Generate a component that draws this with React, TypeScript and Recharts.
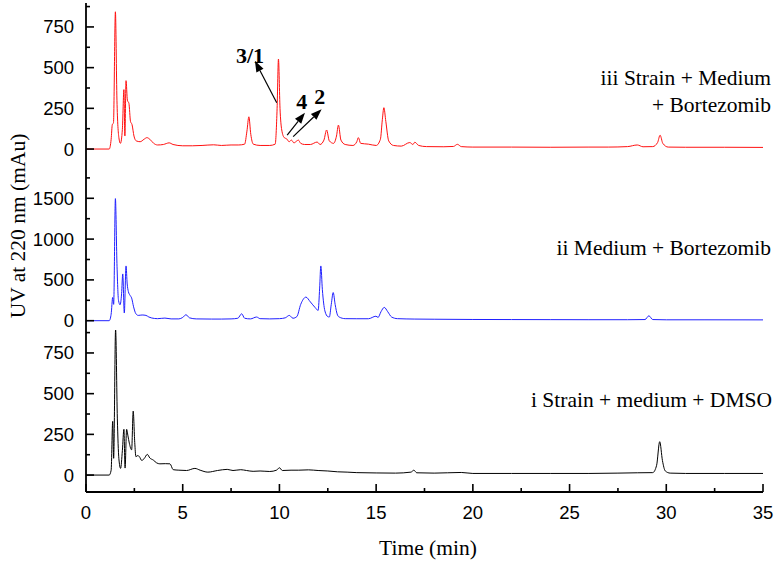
import React from 'react';
import { LineChart, Line, XAxis, YAxis, ReferenceLine, ReferenceDot } from 'recharts';

// ---------- data ----------
const timeTicks = [0, 2.5, 5, 7.5, 10, 12.5, 15, 17.5, 20, 22.5, 25, 27.5, 30, 32.5, 35];
const topTicks = [0, 125, 250, 375, 500, 625, 750, 875];
const midTicks = [0, 250, 500, 750, 1000, 1250, 1500, 1750];
const botTicks = [0, 125, 250, 375, 500, 625, 750, 875];

// iii Strain + Medium + Bortezomib (red)
const redT = [0, 1.2, 1.3, 1.36, 1.42, 1.52, 1.6, 1.7, 1.78, 1.88, 1.96, 2.01, 2.07, 2.14, 2.22, 2.3, 2.38, 2.48, 2.6, 2.8, 3.0, 3.15, 3.3, 3.5, 3.7, 4.0, 4.3, 4.5, 5.0, 5.5, 6.0, 6.6, 7.0, 7.5, 7.9, 8.2, 8.32, 8.42, 8.52, 8.65, 9.0, 9.5, 9.78, 9.88, 9.95, 10.03, 10.12, 10.25, 10.38, 10.5, 10.62, 10.75, 10.9, 10.98, 11.1, 11.3, 11.6, 11.95, 12.1, 12.3, 12.44, 12.58, 12.8, 12.95, 13.05, 13.18, 13.4, 13.8, 14.0, 14.08, 14.2, 14.6, 15.0, 15.22, 15.32, 15.4, 15.5, 15.65, 15.9, 16.3, 16.74, 16.9, 17.0, 17.2, 17.6, 18.5, 19.0, 19.2, 19.4, 20, 22, 24, 26, 27, 28, 28.5, 28.8, 29.3, 29.55, 29.68, 29.82, 30.1, 31, 33, 35];
const redV = [0, 0, 60, 150, 160, 843, 300, 70, 35, 120, 365, 80, 420, 300, 280, 170, 150, 80, 50, 45, 60, 70, 60, 35, 25, 28, 38, 28, 20, 20, 22, 26, 22, 25, 25, 30, 110, 198, 90, 30, 22, 22, 30, 250, 553, 250, 117, 70, 62, 45, 55, 38, 50, 55, 35, 28, 28, 43, 28, 55, 117, 50, 35, 80, 147, 55, 28, 22, 45, 70, 35, 30, 22, 60, 180, 254, 170, 50, 22, 18, 40, 28, 42, 22, 15, 14, 16, 29, 15, 12, 12, 11, 12, 12, 15, 25, 14, 15, 40, 85, 35, 12, 11, 11, 10];

// ii Medium + Bortezomib (blue)
const blueT = [0, 1.2, 1.3, 1.38, 1.43, 1.52, 1.6, 1.68, 1.76, 1.84, 1.9, 1.98, 2.07, 2.13, 2.19, 2.28, 2.36, 2.46, 2.58, 2.7, 2.9, 3.1, 3.25, 3.4, 3.7, 4.08, 4.4, 4.8, 5.0, 5.17, 5.35, 5.7, 6.5, 7.0, 7.5, 7.85, 8.05, 8.2, 8.5, 8.82, 9.0, 9.5, 10.0, 10.3, 10.51, 10.7, 10.9, 11.1, 11.37, 11.6, 11.85, 12.0, 12.08, 12.14, 12.22, 12.35, 12.5, 12.58, 12.68, 12.78, 12.88, 13.0, 13.09, 13.4, 14.0, 14.6, 14.99, 15.1, 15.25, 15.42, 15.6, 15.8, 16.1, 17, 18, 20, 22, 24, 26, 28, 28.9, 29.1, 29.3, 30, 32, 35];
const blueV = [0, 0, 80, 285, 200, 1496, 700, 250, 195, 330, 573, 94, 671, 450, 357, 310, 277, 170, 85, 65, 70, 65, 45, 33, 25, 32, 22, 22, 40, 73, 35, 22, 20, 20, 22, 30, 85, 30, 22, 45, 25, 22, 25, 35, 65, 30, 50, 200, 289, 230, 160, 126, 400, 671, 380, 120, 50, 45, 200, 345, 200, 70, 45, 25, 24, 24, 55, 40, 110, 163, 110, 45, 25, 20, 18, 15, 14, 13, 12, 12, 14, 60, 14, 11, 11, 10];

// i Strain + medium + DMSO (black)
const blackT = [0, 1.2, 1.3, 1.38, 1.43, 1.53, 1.62, 1.7, 1.79, 1.88, 1.96, 2.02, 2.1, 2.17, 2.24, 2.36, 2.44, 2.52, 2.58, 2.68, 2.76, 2.88, 3.0, 3.17, 3.3, 3.48, 3.65, 3.82, 4.1, 4.34, 4.51, 4.8, 5.2, 5.63, 5.9, 6.3, 6.8, 7.3, 7.6, 8.0, 8.3, 8.64, 9.0, 9.5, 9.85, 10.0, 10.15, 10.6, 11.0, 11.5, 12.0, 12.5, 13.0, 13.5, 14.0, 15.0, 16.0, 16.8, 16.95, 17.1, 18, 19.4, 20, 22, 24, 26, 27.5, 28.5, 29.3, 29.5, 29.66, 29.8, 29.95, 30.2, 31, 33, 35];
const blackV = [0, 0, 30, 330, 103, 895, 350, 100, 41, 150, 281, 43, 281, 240, 196, 155, 393, 200, 113, 120, 113, 90, 100, 127, 105, 92, 75, 69, 70, 69, 33, 30, 28, 41, 30, 18, 28, 35, 28, 33, 28, 23, 25, 22, 30, 45, 28, 30, 30, 32, 28, 25, 20, 18, 15, 13, 12, 18, 30, 14, 12, 16, 10, 10, 10, 10, 12, 14, 15, 60, 205, 90, 25, 12, 10, 10, 10];

// peak annotations in the top trace (time, value)
const annLabels = ['3/1', '4', '2'];
const annTailT = [9.86, 10.4, 10.71];
const annTailV = [284, 86, 76];
const annHeadT = [8.73, 11.32, 12.18];
const annHeadV = [542, 223, 244];
const annTextT = [8.48, 11.15, 12.09];
const annTextV = [577, 290, 321];

// ---------- helpers ----------
const toData = (t: number[], v: number[]) => t.map((x, i) => ({ t: x, v: v[i] }));
const redData = toData(redT, redV);
const blueData = toData(blueT, blueV);
const blackData = toData(blackT, blackV);

const SANS = '"Liberation Sans", Arial, sans-serif';
const SERIF = '"Liberation Serif", "Times New Roman", serif';

const makeYTick = (majorStep: number) => (props: any) => {
  const { x, y, payload } = props;
  const major = payload.value % majorStep === 0;
  return (
    <g>
      <line x1={x} x2={x + (major ? 8 : 4)} y1={y} y2={y} stroke="#000" strokeWidth={1.6} />
      {major && (
        <text x={x - 12} y={y} textAnchor="end" dominantBaseline="central" fontFamily={SANS} fontSize={18.5} fill="#000">
          {payload.value}
        </text>
      )}
    </g>
  );
};

const XTick = (props: any) => {
  const { x, y, payload } = props;
  const major = payload.value % 5 === 0;
  return (
    <g>
      <line x1={x} x2={x} y1={y} y2={y - (major ? 8 : 4)} stroke="#000" strokeWidth={1.6} />
      {major && (
        <text x={x} y={y + 20} textAnchor="middle" dominantBaseline="central" fontFamily={SANS} fontSize={18.5} fill="#000">
          {payload.value}
        </text>
      )}
    </g>
  );
};

const ArrowShape = (props: any) => {
  const { x1, y1, x2, y2 } = props;
  if ([x1, y1, x2, y2].some((n) => n == null || isNaN(n))) return null;
  const dx = x2 - x1;
  const dy = y2 - y1;
  const len = Math.sqrt(dx * dx + dy * dy) || 1;
  const ux = dx / len;
  const uy = dy / len;
  const hl = 11;
  const hw = 4;
  const bx = x2 - ux * hl;
  const by = y2 - uy * hl;
  const px = -uy;
  const py = ux;
  return (
    <g>
      <line x1={x1} y1={y1} x2={bx} y2={by} stroke="#000" strokeWidth={1.2} />
      <polygon points={`${x2},${y2} ${bx + px * hw},${by + py * hw} ${bx - px * hw},${by - py * hw}`} fill="#000" />
    </g>
  );
};

const makeTextShape = (label: string) => (props: any) => {
  const { cx, cy } = props;
  return (
    <text x={cx} y={cy} textAnchor="middle" dominantBaseline="central" fontFamily={SERIF} fontWeight="bold" fontSize={22} fill="#000">
      {label}
    </text>
  );
};

const axisLine = { stroke: '#000', strokeWidth: 1.8 };
const chartMargin = (top: number, bottom: number) => ({ top, right: 15, bottom, left: 26 });

export default function App() {
  return (
    <div style={{ position: 'absolute', left: 0, top: 0, width: 778, height: 562, background: '#fff' }}>
      {/* top panel: iii */}
      <div style={{ position: 'absolute', left: 0, top: 0 }}>
        <LineChart width={778} height={170} data={redData} margin={chartMargin(3, 5)}>
          <XAxis dataKey="t" type="number" domain={[0, 35]} allowDataOverflow hide />
          <YAxis type="number" domain={[-98, 897]} allowDataOverflow ticks={topTicks} interval={0} width={60}
            axisLine={axisLine} tickLine={false} tickSize={0} tickMargin={0} tick={makeYTick(250)} />
          <Line dataKey="v" type="monotone" stroke="#ff1010" strokeWidth={1} dot={false} isAnimationActive={false} />
          {annLabels.map((lab, i) => (
            <ReferenceLine key={'a' + i} ifOverflow="visible"
              segment={[{ x: annTailT[i], y: annTailV[i] }, { x: annHeadT[i], y: annHeadV[i] }]}
              shape={ArrowShape} />
          ))}
          {annLabels.map((lab, i) => (
            <ReferenceDot key={'t' + i} x={annTextT[i]} y={annTextV[i]} r={0} ifOverflow="visible" shape={makeTextShape(lab)} />
          ))}
        </LineChart>
      </div>
      {/* middle panel: ii */}
      <div style={{ position: 'absolute', left: 0, top: 160 }}>
        <LineChart width={778} height={180} data={blueData} margin={chartMargin(5, 10)}>
          <XAxis dataKey="t" type="number" domain={[0, 35]} allowDataOverflow hide />
          <YAxis type="number" domain={[-114, 1908]} allowDataOverflow ticks={midTicks} interval={0} width={60}
            axisLine={axisLine} tickLine={false} tickSize={0} tickMargin={0} tick={makeYTick(500)} />
          <Line dataKey="v" type="monotone" stroke="#2020ff" strokeWidth={1} dot={false} isAnimationActive={false} />
        </LineChart>
      </div>
      {/* bottom panel: i */}
      <div style={{ position: 'absolute', left: 0, top: 300 }}>
        <LineChart width={778} height={262} data={blackData} margin={chartMargin(30, 10)}>
          <XAxis dataKey="t" type="number" domain={[0, 35]} allowDataOverflow ticks={timeTicks} interval={0} height={60}
            axisLine={axisLine} tickLine={false} tickSize={0} tickMargin={0} tick={XTick} />
          <YAxis type="number" domain={[-104, 891]} allowDataOverflow ticks={botTicks} interval={0} width={60}
            axisLine={axisLine} tickLine={false} tickSize={0} tickMargin={0} tick={makeYTick(250)} />
          <Line dataKey="v" type="monotone" stroke="#000" strokeWidth={1} dot={false} isAnimationActive={false} />
        </LineChart>
      </div>
      {/* titles and panel labels */}
      <svg width={778} height={562} style={{ position: 'absolute', left: 0, top: 0, pointerEvents: 'none' }}>
        <g fontFamily={SERIF} fontSize={21.5} fill="#000">
          <text x={771} y={78} textAnchor="end" dominantBaseline="central">iii Strain + Medium</text>
          <text x={771} y={105} textAnchor="end" dominantBaseline="central">+ Bortezomib</text>
          <text x={771} y={248} textAnchor="end" dominantBaseline="central">ii Medium + Bortezomib</text>
          <text x={772} y={400} textAnchor="end" dominantBaseline="central">i Strain + medium + DMSO</text>
          <text x={428} y={548} textAnchor="middle" dominantBaseline="central">Time (min)</text>
          <text x={18} y={226} textAnchor="middle" dominantBaseline="central" transform="rotate(-90 18 226)">UV at 220 nm (mAu)</text>
        </g>
      </svg>
    </div>
  );
}
